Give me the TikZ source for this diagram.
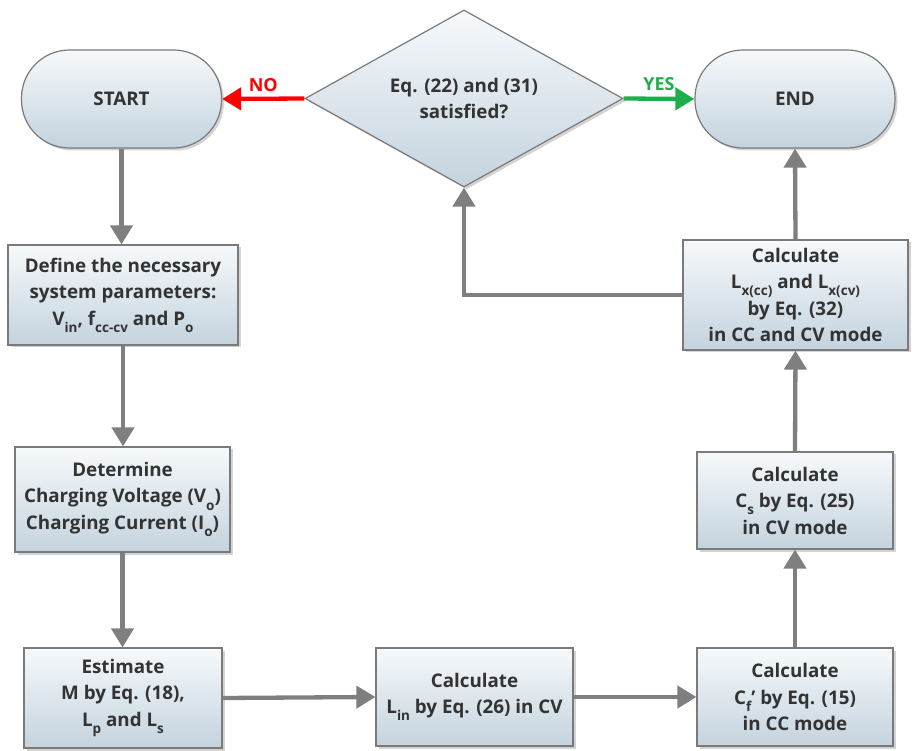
\documentclass[tikz,border=0pt]{standalone}
\usepackage{fontspec}
\setmainfont{Open Sans}
\usetikzlibrary{shapes.geometric,arrows.meta,shadows}
\definecolor{txt}{HTML}{333333}
\definecolor{bordergray}{HTML}{7A7A7A}
\definecolor{linegray}{HTML}{7F7F7F}
\definecolor{topc}{HTML}{F6F9FB}
\definecolor{botc}{HTML}{C4D3DE}
\definecolor{nored}{HTML}{FF0000}
\definecolor{yesgreen}{HTML}{1DAF4B}
\newcommand\sbx[1]{\raisebox{-0.7ex}{\fontsize{13.5}{13.5}\selectfont #1}}
\tikzset{
  basefill/.style={draw=bordergray, line width=1.2pt, top color=topc, bottom color=botc,
    drop shadow={opacity=0.35, shadow xshift=2.5pt, shadow yshift=-2.5pt},
    text=txt, font=\bfseries\fontsize{18.8}{26.5}\selectfont, align=center, inner sep=0pt},
  stepbox/.style={basefill, rectangle},
  pill/.style={basefill, rectangle, rounded corners=48pt, minimum width=200pt, minimum height=98pt},
  decision/.style={basefill, diamond, shape aspect=1.8, minimum width=318pt, minimum height=177pt},
  flow/.style={draw=linegray, line width=4.3pt, -{Triangle[width=22pt,length=19pt]}},
  noarrow/.style={draw=nored, line width=4.3pt, -{Triangle[width=22pt,length=19pt]}},
  yesarrow/.style={draw=yesgreen, line width=4.3pt, -{Triangle[width=22pt,length=19pt]}},
  lbl/.style={font=\bfseries\fontsize{18}{20}\selectfont, inner sep=0pt}
}
\begin{document}
\begin{tikzpicture}[x=1pt,y=-1pt]
\useasboundingbox (0,0) rectangle (914,751);

\node[pill] (start) at (121.5,99) {START};
\node[pill] (end) at (795,99) {END};
\node[decision] (dec) at (464,98.5) {Eq. (22) and (31)\\satisfied?};

\node[stepbox, minimum width=230pt, minimum height=100pt] (b1) at (123,295)
  {Define the necessary\\system parameters:\\V\sbx{in}, f\sbx{cc-cv} and P\sbx{o}};
\node[stepbox, minimum width=215pt, minimum height=105pt] (b2) at (122.5,499.5)
  {Determine\\Charging Voltage (V\sbx{o})\\Charging Current (I\sbx{o})};
\node[stepbox, minimum width=198pt, minimum height=100pt] (b3) at (123,698)
  {Estimate\\M by Eq. (18),\\L\sbx{p} and L\sbx{s}};
\node[stepbox, minimum width=197pt, minimum height=98pt] (b4) at (474.5,697)
  {Calculate\\L\sbx{in} by Eq. (26) in CV};
\node[stepbox, minimum width=196pt, minimum height=98pt] (b5) at (795,697)
  {Calculate\\C\sbx{f}' by Eq. (15)\\in CC mode};
\node[stepbox, minimum width=196pt, minimum height=97pt] (b6) at (795,500.5)
  {Calculate\\C\sbx{s} by Eq. (25)\\in CV mode};
\node[stepbox, minimum width=225pt, minimum height=110pt] (b7) at (795.5,295)
  {Calculate\\L\sbx{x(cc)} and L\sbx{x(cv)}\\by Eq. (32)\\in CC and CV mode};

\draw[flow] (start.south) -- (start.south |- b1.north);
\draw[flow] (b1.south) -- (b1.south |- b2.north);
\draw[flow] (b2.south) -- (b2.south |- b3.north);
\draw[flow] (b3.east) -- (b4.west);
\draw[flow] (b4.east) -- (b5.west);
\draw[flow] (b5.north) -- (b6.south);
\draw[flow] (b6.north) -- (b7.south);
\draw[flow] (b7.north) -- (end.south);
\draw[flow] (b7.west) -| (dec.south);
\draw[noarrow] (dec.west) -- (start.east) node[midway, above=5pt, lbl, text=nored] {NO};
\draw[yesarrow] (dec.east) -- (end.west) node[midway, above=6pt, lbl, text=yesgreen] {YES};
\end{tikzpicture}
\end{document}
